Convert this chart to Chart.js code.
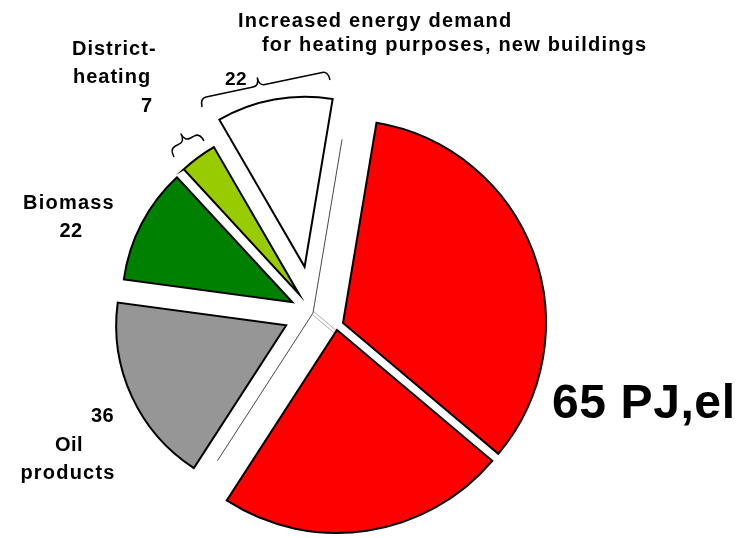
<!DOCTYPE html>
<html>
<head>
<meta charset="utf-8">
<script src="https://cdn.jsdelivr.net/npm/chart.js@4/dist/chart.umd.min.js"></script>
<style>
  html, body { margin: 0; padding: 0; background: #ffffff; }
  #wrap { position: relative; width: 749px; height: 538px; overflow: hidden; }
  #wrap canvas { position: absolute; left: 0; top: 0; }
  .lbl {
    position: absolute;
    font-family: 'Liberation Sans', Arial, Helvetica, sans-serif;
    font-weight: bold;
    color: #000;
    white-space: nowrap;
  }
</style>
</head>
<body>
<div id="wrap"><canvas id="pie" width="749" height="538"></canvas></div>
<script>
// ---- data -------------------------------------------------------------
const categories = ['Electricity', 'Environmental heat', 'Oil products', 'Biomass',
                    'District-heating', 'Increased energy demand'];
const values = [67, 46, 36, 22, 7, 22];
const electricityPJ = 65;

// ---- styling ----------------------------------------------------------
const sliceColors  = ['#ff0000', '#ff0000', '#969696', '#008000', '#99cc00', '#ffffff'];
const sliceRadius  = [203, 203, 170, 170, 170, 170];
const sliceShift   = [31.6, 29.4, 29.5, 23.3, 23.4, 47];
// direction of the shift, degrees clockwise from 12 o'clock (null = slice middle)
const sliceShiftDir = [108.4, 125.3, null, null, null, null];
const ghostRadius = 176;

// text lines: [text, x, baseline, anchor, size, letterSpacing]
const labelLines = [
  ['Increased energy demand',               238,  27, 'left',   20, 1.2],
  ['for heating purposes, new buildings',   262,  51, 'left',   20, 1.2],
  ['District-',                              72,  55, 'left',   20, 1.0],
  ['heating',                                73,  83, 'left',   20, 1.0],
  [String(values[4]),                       152, 112, 'right',  20, 0],
  ['Biomass',                                69, 209, 'center', 20, 1.2],
  [String(values[3]),                        71, 237, 'center', 20, 0.5],
  [String(values[5]),                       225,  85, 'left',   19, 0.5],
  [String(values[2]),                        91, 422, 'left',   20, 0.5],
  ['Oil',                                    69, 451, 'center', 20, 0.5],
  ['products',                               68, 479, 'center', 20, 1.2],
  [electricityPJ + ' PJ,el',                552, 419, 'left',   48, 0.6]
];

// braces: start point, end point, tip position (fraction), bar height, tip height
const braces = [
  { p1: [202, 107], p2: [330, 80],  tipAt: 0.46, bar: 9, tip: 17 },
  { p1: [174, 157], p2: [204, 141], tipAt: 0.50, bar: 9, tip: 17 }
];

// ---- labels as html text ------------------------------------------------
const wrap = document.getElementById('wrap');
labelLines.forEach(([text, x, base, anchor, size, ls]) => {
  const d = document.createElement('div');
  d.className = 'lbl';
  d.textContent = text;
  d.style.fontSize = size + 'px';
  d.style.lineHeight = size + 'px';
  d.style.letterSpacing = ls + 'px';
  d.style.left = x + 'px';
  d.style.top = (base - size * 0.8465) + 'px';
  if (anchor === 'center') d.style.transform = 'translateX(-50%)';
  if (anchor === 'right') d.style.transform = 'translateX(-100%)';
  wrap.appendChild(d);
});

// ---- plugins ------------------------------------------------------------
const toRad = deg => (deg - 90) * Math.PI / 180;

function pieCenter(chart) {
  const a = chart.chartArea;
  return [(a.left + a.right) / 2, (a.top + a.bottom) / 2];
}

// pulls every slice out of the pie and sets its own radius
const explodePlugin = {
  id: 'explodeSlices',
  afterDatasetsUpdate(chart) {
    const [cx, cy] = pieCenter(chart);
    chart.getDatasetMeta(0).data.forEach((arc, i) => {
      const mid = (arc.startAngle + arc.endAngle) / 2;
      const ang = sliceShiftDir[i] == null ? mid : toRad(sliceShiftDir[i]);
      arc.x = cx + Math.cos(ang) * sliceShift[i];
      arc.y = cy + Math.sin(ang) * sliceShift[i];
      arc.outerRadius = sliceRadius[i];
    });
  }
};

// thin outline of the red group at its original place
const ghostPlugin = {
  id: 'ghostOutline',
  beforeDatasetsDraw(chart) {
    const ctx = chart.ctx;
    const [cx, cy] = pieCenter(chart);
    const arcs = chart.getDatasetMeta(0).data;
    ctx.save();
    ctx.strokeStyle = '#333';
    ctx.lineWidth = 0.9;
    [arcs[0].startAngle, arcs[1].endAngle].forEach(a => {
      ctx.beginPath();
      ctx.moveTo(cx, cy);
      ctx.lineTo(cx + Math.cos(a) * ghostRadius, cy + Math.sin(a) * ghostRadius);
      ctx.stroke();
    });
    const b = arcs[0].endAngle;
    const px = -Math.sin(b), py = Math.cos(b);
    ctx.strokeStyle = '#999';
    ctx.lineWidth = 0.8;
    [-1.6, 1.6].forEach(o => {
      ctx.beginPath();
      ctx.moveTo(cx + px * o, cy + py * o);
      ctx.lineTo(cx + px * o + Math.cos(b) * 30, cy + py * o + Math.sin(b) * 30);
      ctx.stroke();
    });
    ctx.restore();
  }
};

function drawBrace(ctx, br) {
  const [x1, y1] = br.p1, [x2, y2] = br.p2;
  const L = Math.hypot(x2 - x1, y2 - y1);
  const ux = (x2 - x1) / L, uy = (y2 - y1) / L;
  const nx = uy, ny = -ux;
  const P = (u, v) => [x1 + ux * u + nx * v, y1 + uy * u + ny * v];
  const r = Math.min(6, L * 0.18);
  const t = L * br.tipAt;
  const pts = [];
  ctx.beginPath();
  ctx.moveTo(...P(0, 0));
  ctx.quadraticCurveTo(...P(0, br.bar), ...P(r, br.bar));
  ctx.lineTo(...P(t - r, br.bar));
  ctx.quadraticCurveTo(...P(t, br.bar), ...P(t, br.tip));
  ctx.quadraticCurveTo(...P(t, br.bar), ...P(t + r, br.bar));
  ctx.lineTo(...P(L - r, br.bar));
  ctx.quadraticCurveTo(...P(L, br.bar), ...P(L, 0));
  ctx.stroke();
}

const bracePlugin = {
  id: 'braces',
  afterDraw(chart) {
    const ctx = chart.ctx;
    ctx.save();
    ctx.strokeStyle = '#000';
    ctx.lineWidth = 1.5;
    ctx.lineJoin = 'round';
    braces.forEach(br => drawBrace(ctx, br));
    ctx.restore();
  }
};

// ---- chart --------------------------------------------------------------
new Chart(document.getElementById('pie'), {
  type: 'pie',
  data: {
    labels: categories,
    datasets: [{
      data: values,
      backgroundColor: sliceColors,
      borderColor: '#000000',
      borderWidth: 2,
      borderJoinStyle: 'miter'
    }]
  },
  options: {
    responsive: false,
    animation: false,
    events: [],
    rotation: 9.5,
    radius: 170,
    layout: { padding: { left: 0, right: 123, top: 88, bottom: 0 } },
    plugins: { legend: { display: false }, tooltip: { enabled: false } }
  },
  plugins: [explodePlugin, ghostPlugin, bracePlugin]
});
</script>
</body>
</html>
